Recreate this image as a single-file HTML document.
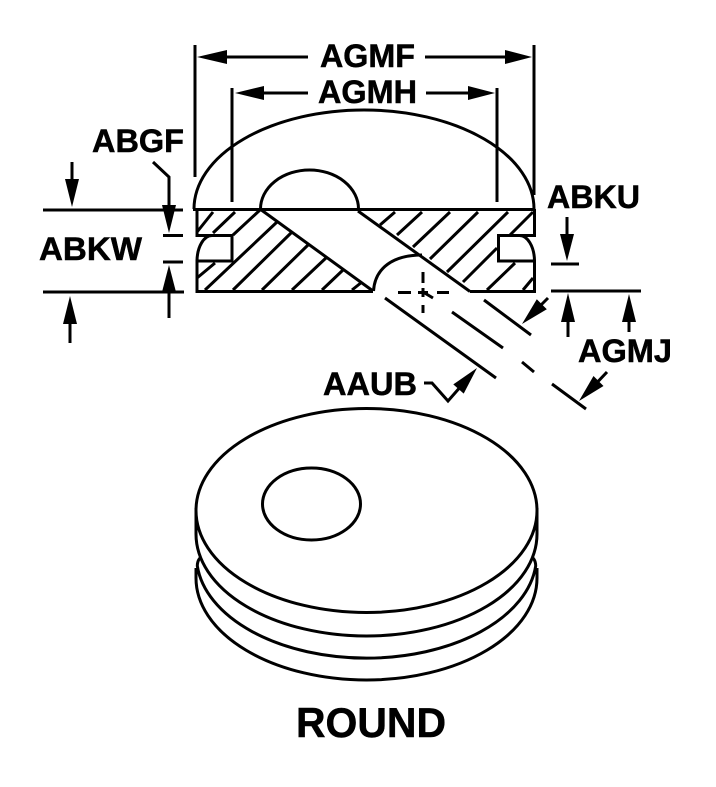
<!DOCTYPE html>
<html><head><meta charset="utf-8"><style>
html,body{margin:0;padding:0;background:#fff;width:716px;height:787px;overflow:hidden}
svg{display:block}
text{font-family:"Liberation Sans",Arial,sans-serif;font-weight:bold;font-size:32px;fill:#000;stroke:#000;stroke-width:.5px}
</style></head><body>
<svg width="716" height="787" viewBox="0 0 716 787" xmlns="http://www.w3.org/2000/svg">
<g fill="none" stroke="#000" stroke-width="3">
<!-- section outline -->
<path d="M194 209A170 99 0 0 1 534 209" />
<path d="M260.500 209A49 39 0 0 1 358.500 209" />
<path d="M193 209.500H535" />
<path d="M358.500 209V211H358" />
<path d="M197 209V235.500H232V261H197V291.500H373" />
<path d="M534.500 209V235.500H498.500V261H534.500V291.500H470" />
<path d="M197 261A15 26 0 0 1 212 235.500" />
<path d="M534.500 261A15 26 0 0 0 519 235.500" />
<path d="M260 209L373 291" />
<path d="M358 211L470 291.500" />
<path d="M373.500 291C375 268 393 255 422 255" />
<!-- hatch -->
<path d="M197 232L213 212M213 233L235 212M233 235L260 210M197 278L215 263M205 290L277 222M233 290L292 232M262 290L308 245M292 290L327 257M322 290L343 270M352 290L362 282" />
<path d="M380 225L395 212M397 235L422 212M413 247L450 212M430 259L478 212M447 272L508 212M463 282L497 248M510 235L533 212M487 290L515 263M523 290L533 278" />
<!-- centre mark -->
<path d="M398 292.500H411M418 292.500H428M437 292.500H449M423 272V283M423 288V297M423 305V313M423 292L433 298" />
<!-- channel extension lines -->
<path d="M385 298L496 378M452 312L503 348M522 362L534 372M552 384L586 409M484 300L531 335" />
<!-- dimension lines -->
<path d="M195 45V177M534 45V195M232 88V202M497 88V202" />
<path d="M225 57H308M425 57H507M262 93H308M426 93H470" />
<path d="M43 210H183M163 235.500H183M163 262H183M43 292H184" />
<path d="M153 162L169 177V207M169 290V318M72 162V182M70 322V343" />
<path d="M567 217V236M551 264H579M551 291H641M568 320V337M629 320V332" />
<path d="M548 298L534 312M607 372L590 390M424 383H432L448 401L462 385" />
<!-- lower disc -->
<ellipse cx="366.500" cy="510.500" rx="170.500" ry="102"/>
<ellipse cx="311.500" cy="504" rx="49" ry="36"/>
<path d="M196 508V534A170.500 102 0 0 0 537 534V508" />
<path d="M200 558Q197.300 561 197.300 566A170 102 0 0 0 535.700 566Q535.700 561 533 558" />
<path d="M196 568V578A170.500 102 0 0 0 537 578V568" />
</g>
<g fill="#000" stroke="none">
<polygon points="197,57 227,50 227,64"/>
<polygon points="532,57 505,50 505,64"/>
<polygon points="235,93 264,86 264,100"/>
<polygon points="495,93 468,86 468,100"/>
<polygon points="169,233 162,205 176,205"/>
<polygon points="169,265 162,292 176,292"/>
<polygon points="72,207 65,179 79,179"/>
<polygon points="70,296 63,324 77,324"/>
<polygon points="567,261 560,234 574,234"/>
<polygon points="568,293 561,322 575,322"/>
<polygon points="629,294 622,322 636,322"/>
<polygon points="522,324 546.800,309.200 536.800,299.200"/>
<polygon points="579,401 603.500,386 593.500,376"/>
<polygon points="477,368 463.700,393.600 453.300,384.400"/>
</g>
<text x="320" y="67" textLength="95" lengthAdjust="spacingAndGlyphs">AGMF</text>
<text x="318" y="103" textLength="99" lengthAdjust="spacingAndGlyphs">AGMH</text>
<text x="92" y="152" textLength="92" lengthAdjust="spacingAndGlyphs">ABGF</text>
<text x="39" y="260" textLength="103" lengthAdjust="spacingAndGlyphs">ABKW</text>
<text x="547" y="208" textLength="93" lengthAdjust="spacingAndGlyphs">ABKU</text>
<text x="578" y="362" textLength="94" lengthAdjust="spacingAndGlyphs">AGMJ</text>
<text x="323" y="395" textLength="94" lengthAdjust="spacingAndGlyphs">AAUB</text>
<text x="296" y="737" textLength="150" lengthAdjust="spacingAndGlyphs" style="font-size:42px">ROUND</text>
</svg>
</body></html>
